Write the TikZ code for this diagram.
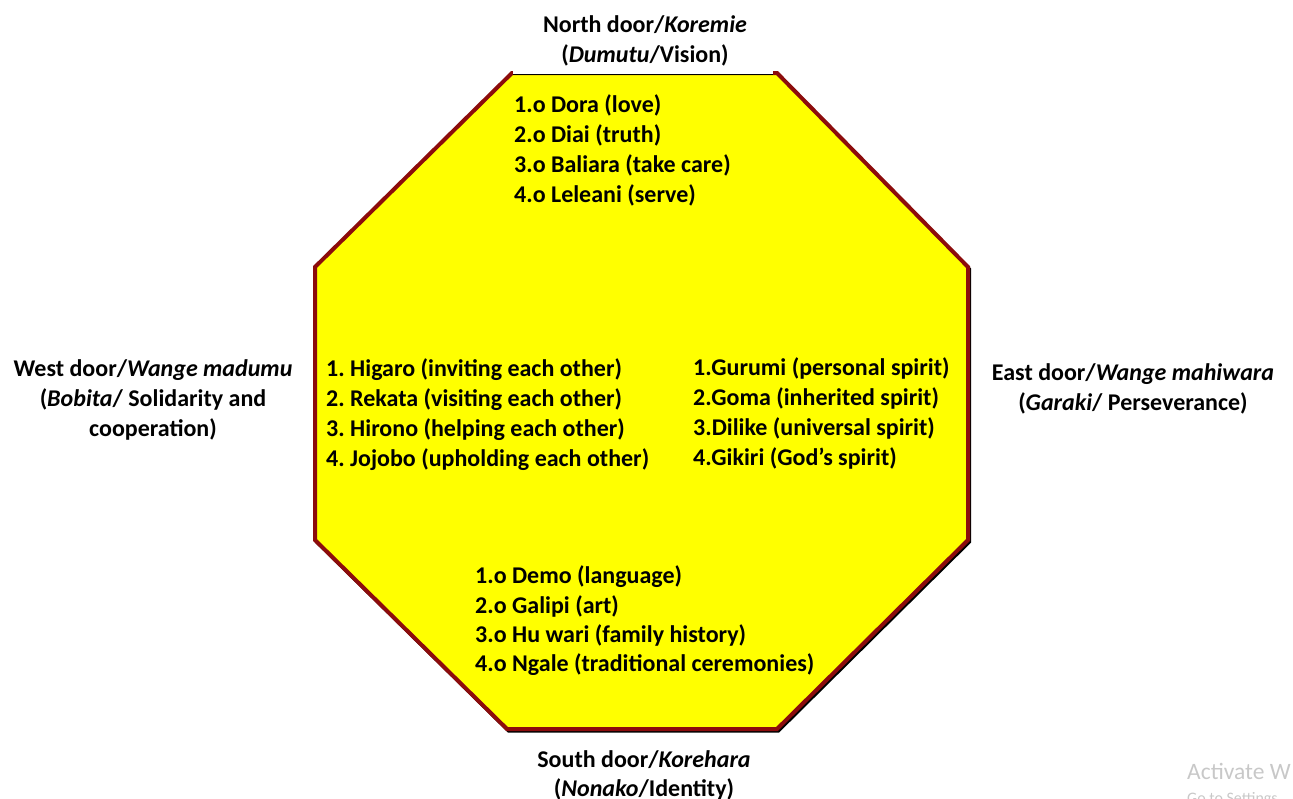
\documentclass[tikz,border=0pt]{standalone}
\usepackage{fontspec}
\setmainfont{Carlito}
\frenchspacing
\definecolor{border}{RGB}{140,12,12}
\definecolor{shade}{RGB}{225,160,160}
\definecolor{fillyel}{RGB}{255,255,0}
\definecolor{wm}{RGB}{200,200,200}
\begin{document}
\begin{tikzpicture}[x=1pt,y=-1pt,
  txt/.style={inner sep=0pt,anchor=base west,font=\fontsize{24}{30}\selectfont\bfseries},
  door/.style={inner sep=0pt,anchor=base,font=\fontsize{24}{30}\selectfont\bfseries},
  wmark/.style={inner sep=0pt,anchor=base west,text=wm,font=\fontsize{23.5}{26}\selectfont}]
\useasboundingbox (0,0) rectangle (1293,798);
% shadow
\draw[shade,line width=3pt,line join=miter,shift={(1.5,2)}]
  (512,73) -- (777,73) -- (968,267) -- (968,540) -- (777,729) -- (507,729) -- (315,540) -- (315,267) -- cycle;
% octagon
\draw[border,fill=fillyel,line width=4pt,line join=miter]
  (512,73) -- (777,73) -- (968,267) -- (968,540) -- (777,729) -- (507,729) -- (315,540) -- (315,267) -- cycle;
% white strip over top edge
\fill[white] (513,69) rectangle (773,75);
\draw[shade,line width=0.6pt] (513,74.5) -- (773,74.5);
% top list
\node[txt] (n1) at (514,112) {1.o Dora (love)};
\node[txt] (n2) at (514,142) {2.o Diai (truth)};
\node[txt] (n3) at (514,172) {3.o Baliara (take care)};
\node[txt] (n4) at (514,202) {4.o Leleani (serve)};
% left list
\node[txt] (w1) at (326,376) {1. Higaro (inviting each other)};
\node[txt] (w2) at (326,406) {2. Rekata (visiting each other)};
\node[txt] (w3) at (326,436) {3. Hirono (helping each other)};
\node[txt] (w4) at (326,466) {4. Jojobo (upholding each other)};
% right list
\node[txt] (e1) at (693,375) {1.Gurumi (personal spirit)};
\node[txt] (e2) at (693,405) {2.Goma (inherited spirit)};
\node[txt] (e3) at (693,435) {3.Dilike (universal spirit)};
\node[txt] (e4) at (693,465) {4.Gikiri (God’s spirit)};
% bottom list (clipped at lower edge of its box)
\begin{scope}
\clip (400,540) rectangle (900,674);
\node[txt] (s1) at (475,583) {1.o Demo (language)};
\node[txt] (s2) at (475,613) {2.o Galipi (art)};
\node[txt] (s3) at (475,642) {3.o Hu wari (family history)};
\node[txt] (s4) at (475,671) {4.o Ngale (traditional ceremonies)};
\end{scope}
% door labels
\node[door] (nd1) at (645,32) {North door/\textit{Koremie}};
\node[door] (nd2) at (645,62) {(\textit{Dumutu}/Vision)};
\node[door] (wd1) at (153,376) {West door/\textit{Wange madumu}};
\node[door] (wd2) at (153,406) {(\textit{Bobita}/ Solidarity and};
\node[door] (wd3) at (153,436) {cooperation)};
\node[door] (ed1) at (1133,380) {East door/\textit{Wange mahiwara}};
\node[door] (ed2) at (1133,410) {(\textit{Garaki}/ Perseverance)};
\node[door] (sd1) at (644,767) {South door/\textit{Korehara}};
\node[door] (sd2) at (644,796) {(\textit{Nonako}/Identity)};
% watermark
\node[wmark] (wm1) at (1187,779) {Activate W};
\begin{scope}
\clip (0,0) rectangle (1285,798);
\node[wmark,font=\fontsize{16}{20}\selectfont] (wm2) at (1187,803) {Go to Settings};
\end{scope}
\end{tikzpicture}
\end{document}
